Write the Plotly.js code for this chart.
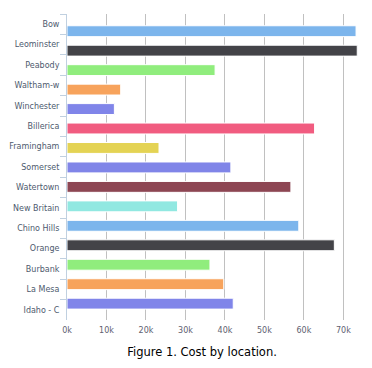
<!DOCTYPE html>
<html>
<head>
<meta charset="utf-8">
<script src="https://cdn.plot.ly/plotly-3.0.1.min.js"></script>
<style>html,body{margin:0;padding:0;background:#fff}#chart{width:372px;height:368px}</style>
</head>
<body>
<div id="chart"></div>
<script>
const locations = ["Bow","Leominster","Peabody","Waltham-w","Winchester","Billerica","Framingham","Somerset","Watertown","New Britain","Chino Hills","Orange","Burbank","La Mesa","Idaho - C"];
const costs = [73200,73500,37500,13600,12000,62700,23300,41500,56700,28000,58700,67700,36200,39700,42100];
const barColors = ["#7cb5ec","#434348","#90ed7d","#f7a35c","#8085e9","#f15c80","#e4d354","#8085e8","#8d4653","#91e8e1","#7cb5ec","#434348","#90ed7d","#f7a35c","#8085e9"];
const xTickVals = [0,10000,20000,30000,40000,50000,60000,70000];
const xTickText = ["0k","10k","20k","30k","40k","50k","60k","70k"];
const chartTitle = "Figure 1. Cost by location.";

const bars = {
  type: "bar", orientation: "h",
  x: costs, y: locations,
  width: 0.56,
  marker: {color: barColors, line: {color: "#ffffff", width: 1}},
  hoverinfo: "x+y", showlegend: false
};
const labels = {
  type: "scatter", mode: "markers",
  x: locations.map(() => 0), y: locations, yaxis: "y2",
  marker: {opacity: 0}, hoverinfo: "skip", showlegend: false
};

const layout = {
  width: 372, height: 368,
  margin: {l: 67, r: 12, t: 14, b: 48, pad: 0},
  paper_bgcolor: "#ffffff", plot_bgcolor: "#ffffff",
  font: {family: "DejaVu Sans, Verdana, sans-serif", size: 8, color: "#606060"},
  title: {text: chartTitle, font: {family: "DejaVu Sans, Verdana, sans-serif", size: 11.5, color: "#000000"},
          x: 0.543, xanchor: "center", xref: "container", y: 0.043, yref: "container", yanchor: "middle"},
  xaxis: {range: [0, 74200], tickvals: xTickVals, ticktext: xTickText,
          showgrid: true, gridcolor: "#c0c0c0", gridwidth: 1, zeroline: false, showline: false,
          ticks: "", tickfont: {size: 8, color: "#606070"}, ticklabelstandoff: 4, fixedrange: true},
  yaxis: {type: "category", range: [14.84, -0.884], showticklabels: false, ticks: "", showgrid: false,
          showline: false, zeroline: false, fixedrange: true},
  yaxis2: {type: "category", overlaying: "y", anchor: "x", side: "left", range: [14.5, -0.5],
           showline: true, linecolor: "#c0d0e0", linewidth: 1, ticks: "outside", tickson: "boundaries",
           ticklen: 6, tickcolor: "#c0d0e0", showgrid: false, zeroline: false, ticklabelstandoff: 5,
           tickfont: {size: 8, color: "#4d5a6e"}, fixedrange: true}
};
Plotly.newPlot("chart", [bars, labels], layout, {displayModeBar: false, staticPlot: true});
</script>
</body>
</html>
